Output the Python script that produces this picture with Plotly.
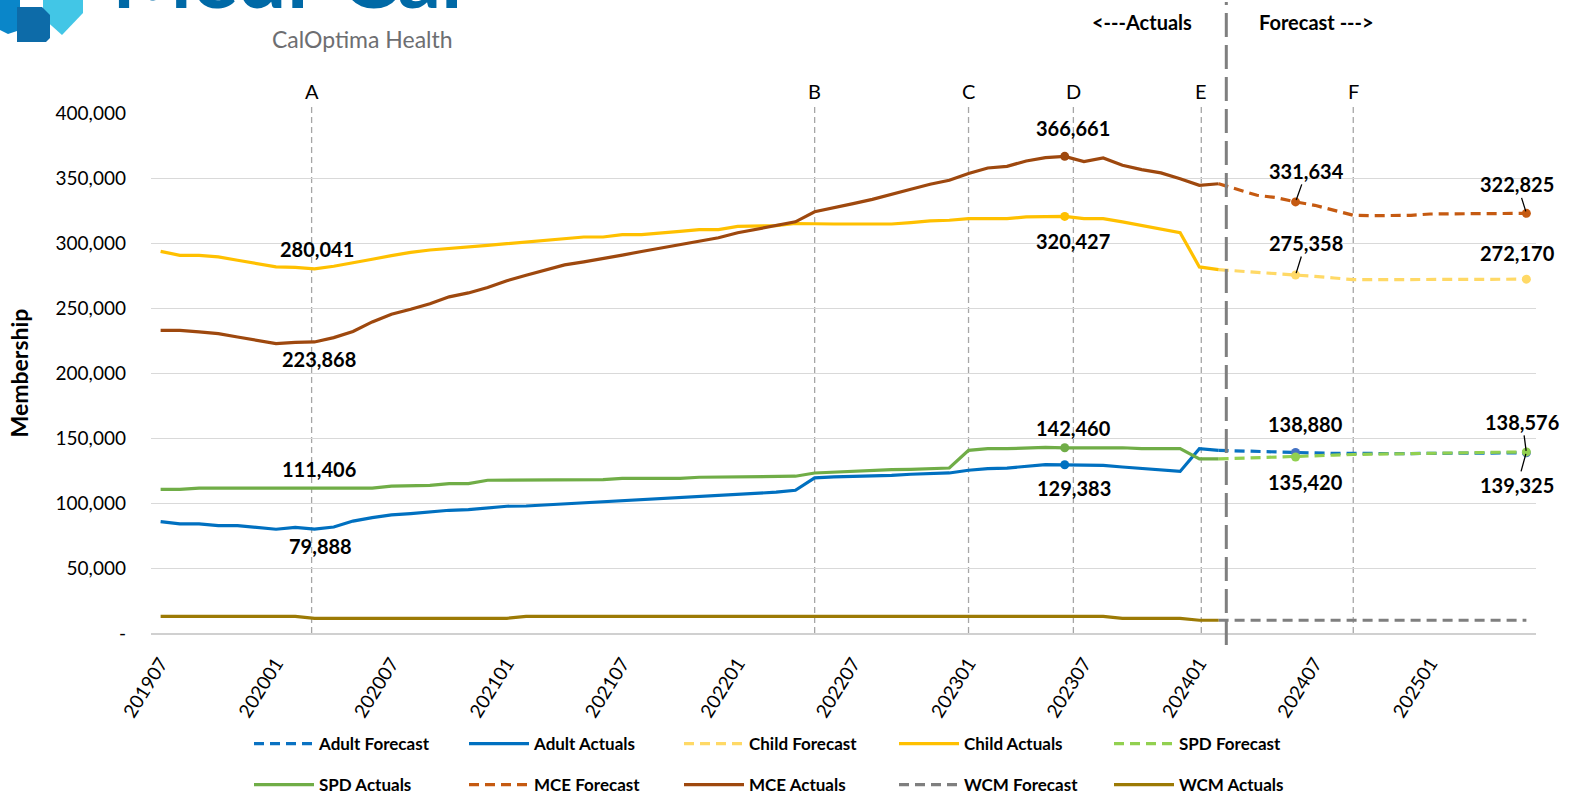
import plotly.graph_objects as go

# ---------------- categories ----------------
months = []
yy, mm = 2019, 7
for _ in range(72):
    months.append(f"{yy}{mm:02d}")
    mm += 1
    if mm > 12:
        mm = 1
        yy += 1
tick_months = months[::6]

ACT_N = 56          # actuals: 201907 .. 202402
FC_START = 55       # forecast: 202402 .. 202506

# ---------------- series values ----------------
adult_actual = [85700, 83900, 83900, 82600, 82600, 81300, 79800, 81300, 79888, 81500,
                86100, 88700, 90800, 91800, 93100, 94400, 94900, 95900, 97500, 97700,
                98500, 99000, 100000, 100500, 101600, 102100, 103100, 104100, 104700, 105700,
                106700, 107200, 108300, 109800, 119300, 120100, 120400, 120400, 121300, 122100,
                122600, 123100, 125200, 126400, 126900, 128200, 129500, 129383, 129400, 129000,
                127700, 126600, 125600, 124300, 141800, 140500]
adult_forecast = [140500, 140000, 139600, 139200, 138880, 138500, 138200, 138000, 137900,
                  137900, 138000, 138200, 138300, 138400, 138500, 138550, 138576]

child_actual = [293600, 290500, 290500, 289300, 286700, 284000, 281600, 281300, 280041, 282100,
                284600, 287500, 290300, 292800, 294600, 295600, 296900, 298200, 299500, 300800,
                302100, 303300, 304600, 304600, 306400, 306400, 308000, 309000, 310300, 310300,
                312800, 312800, 313400, 315000, 314600, 314600, 314600, 314600, 314600, 315700,
                317000, 317500, 318800, 318800, 318800, 320100, 320100, 320427, 318800, 318800,
                316200, 313600, 311100, 308000, 281600, 279500]
child_forecast = [279500, 278500, 277700, 276900, 275358, 274300, 273100, 271800, 271800,
                  271800, 271800, 271800, 272000, 272000, 272100, 272100, 272170]

spd_actual = [110500, 110500, 111400, 111400, 111400, 111400, 111400, 111400, 111406, 111400,
              111500, 111500, 113000, 113500, 113500, 114900, 114900, 117500, 117500, 117500,
              117500, 117500, 117500, 118000, 119000, 119000, 119000, 119000, 119800, 120000,
              120000, 120000, 120000, 120600, 123100, 123800, 124400, 125100, 125600, 125900,
              126400, 126900, 140500, 141800, 141800, 142300, 142800, 142460, 142500, 142500,
              142500, 141800, 141800, 141800, 133900, 133900]
spd_forecast = [133900, 134300, 134700, 135000, 135420, 136200, 136800, 137300, 137500,
                137600, 137800, 138200, 138500, 138800, 139000, 139200, 139325]

mce_actual = [232800, 232800, 231600, 230300, 227700, 225200, 222600, 223600, 223868, 227200,
              232000, 239300, 245200, 249000, 253200, 258600, 261600, 265800, 271000, 275200,
              279200, 283200, 285500, 288400, 290700, 293500, 296100, 298700, 301700, 304000,
              307900, 310700, 313000, 316300, 324000, 326900, 330300, 333600, 337200, 341300,
              345200, 348300, 353400, 357700, 359000, 363100, 365700, 366661, 362600, 365400,
              359800, 356400, 353900, 349500, 344400, 345600]
mce_forecast = [345600, 341000, 336700, 334900, 331634, 329000, 325200, 321300, 321000,
                321000, 321300, 322300, 322400, 322500, 322600, 322700, 322825]

wcm_actual = [12800, 12800, 12800, 12800, 12800, 12800, 12800, 12800, 11300, 11300,
              11300, 11300, 11300, 11300, 11300, 11300, 11300, 11300, 11300, 12800,
              12800, 12800, 12800, 12800, 12800, 12800, 12800, 12800, 12800, 12800,
              12800, 12800, 12800, 12800, 12800, 12800, 12800, 12800, 12800, 12800,
              12800, 12800, 12800, 12800, 12800, 12800, 12800, 12800, 12800, 12800,
              11200, 11200, 11200, 11200, 9800, 9800]
wcm_forecast = [9800, 9800, 9800, 9800, 9800, 9800, 9800, 9800, 9800,
                9800, 9800, 9800, 9800, 9800, 9800, 9800, 9800]

y_ticks = [0, 50000, 100000, 150000, 200000, 250000, 300000, 350000, 400000]
y_ticktext = ["-"] + [f"{v:,}" for v in y_ticks[1:]]

event_labels = ["A", "B", "C", "D", "E", "F"]

# ---------------- layout helpers ----------------
W, H = 1576, 796
L, R, T, B = 151, 40, 113, 163
PW, PH = W - L - R, H - T - B


def px(xp):
    return (xp - L) / PW


def py(yp):
    return (H - B - yp) / PH


FONT = "Lato, 'Open Sans', Arial, sans-serif"
act_idx = list(range(ACT_N))
fc_idx = list(range(FC_START, len(months)))
act_x = [months[i] for i in act_idx]
fc_x = [months[i] for i in fc_idx]

fig = go.Figure()

series = [
    ("Adult Forecast", fc_x, adult_forecast, "#0A72C2", True, "legend"),
    ("Adult Actuals", act_x, adult_actual, "#0070C0", False, "legend"),
    ("Child Forecast", fc_x, child_forecast, "#FFD966", True, "legend"),
    ("Child Actuals", act_x, child_actual, "#FFC000", False, "legend"),
    ("SPD Forecast", fc_x, spd_forecast, "#92D050", True, "legend"),
    ("SPD Actuals", act_x, spd_actual, "#70AD47", False, "legend2"),
    ("MCE Forecast", fc_x, mce_forecast, "#C55A11", True, "legend2"),
    ("MCE Actuals", act_x, mce_actual, "#9E480E", False, "legend2"),
    ("WCM Forecast", fc_x, wcm_forecast, "#7F7F7F", True, "legend2"),
    ("WCM Actuals", act_x, wcm_actual, "#9C7A05", False, "legend2"),
]
for name, xs, ys, col, dashed, lg in series:
    fig.add_trace(go.Scatter(
        x=xs, y=ys, name=name, mode="lines", legend=lg,
        line=dict(color=col, width=3.2, dash="10px,6px" if dashed else "solid"),
        hoverinfo="x+y+name",
    ))

# markers at labelled points
marker_specs = [
    (act_x, adult_actual, [47], "#0070C0"),
    (act_x, child_actual, [47], "#FFC000"),
    (act_x, spd_actual, [47], "#70AD47"),
    (act_x, mce_actual, [47], "#9E480E"),
    (fc_x, adult_forecast, [4, 16], "#4472C4"),
    (fc_x, child_forecast, [4, 16], "#FFD966"),
    (fc_x, spd_forecast, [4, 16], "#92D050"),
    (fc_x, mce_forecast, [4, 16], "#C55A11"),
]
for xs, ys, idx, col in marker_specs:
    fig.add_trace(go.Scatter(
        x=[xs[i] for i in idx], y=[ys[i] for i in idx], mode="markers",
        marker=dict(color=col, size=9), showlegend=False, hoverinfo="skip"))

annotations = []

# value labels: (index list, y list, index, dx, dy, leader)
label_specs = [
    (act_idx, child_actual, 8, 2, -20, False),
    (act_idx, mce_actual, 8, 4, 17, False),
    (act_idx, spd_actual, 8, 4, -19, False),
    (act_idx, adult_actual, 8, 6, 17, False),
    (act_idx, mce_actual, 47, 8, -28, False),
    (act_idx, child_actual, 47, 8, 25, False),
    (act_idx, spd_actual, 47, 9, -20, False),
    (act_idx, adult_actual, 47, 9, 23, False),
    (fc_idx, mce_forecast, 4, 11, -31, True),
    (fc_idx, child_forecast, 4, 10, -32, True),
    (fc_idx, adult_forecast, 4, 10, -28, False),
    (fc_idx, spd_forecast, 4, 10, 25, False),
    (fc_idx, mce_forecast, 16, -9, -29, True),
    (fc_idx, child_forecast, 16, -9, -26, False),
    (fc_idx, adult_forecast, 16, -4, -31, True),
    (fc_idx, spd_forecast, 16, -9, 33, True),
]
for xs, ys, i, dx, dy, leader in label_specs:
    a = dict(x=xs[i], y=ys[i], xref="x", yref="y", text=f"<b>{ys[i]:,}</b>",
             font=dict(family=FONT, size=20, color="#000000"))
    if leader:
        a.update(showarrow=True, arrowhead=0, arrowwidth=1.3, arrowcolor="#000000",
                 ax=dx, ay=dy, axref="pixel", ayref="pixel", standoff=2)
    else:
        a.update(showarrow=False, xshift=dx, yshift=-dy)
    annotations.append(a)

# event reference lines
event_pos = [7.85, 34.0, 42.0, 47.45, 54.1, 62.0]
shapes = []
for lab, pos in zip(event_labels, event_pos):
    shapes.append(dict(type="line", xref="x", yref="paper", x0=pos, x1=pos, y0=0, y1=py(103),
                       line=dict(color="#A6A6A6", width=1.3, dash="6px,4px"), layer="below"))
    annotations.append(dict(x=pos, y=py(91), xref="x", yref="paper", text=lab, showarrow=False,
                            xanchor="center", yanchor="middle",
                            font=dict(family=FONT, size=20, color="#000000")))

# actuals / forecast divider
DIV = 55.4
shapes.append(dict(type="line", xref="x", yref="paper", x0=DIV, x1=DIV, y0=py(645), y1=py(2),
                   line=dict(color="#7F7F7F", width=3, dash="24px,8px")))
annotations.append(dict(x=px(1142), y=py(22), xref="paper", yref="paper", text="<b>&lt;---Actuals</b>",
                        xanchor="center", yanchor="middle",
                        showarrow=False, font=dict(family=FONT, size=20, color="#000000")))
annotations.append(dict(x=px(1316), y=py(22), xref="paper", yref="paper", text="<b>Forecast ---&gt;</b>",
                        xanchor="center", yanchor="middle",
                        showarrow=False, font=dict(family=FONT, size=20, color="#000000")))

# logo (cropped at top of page)
annotations.append(dict(x=px(110), y=py(28), xref="paper", yref="paper", xanchor="left", yanchor="bottom",
                        text="<b>Medi-Cal</b>", showarrow=False,
                        font=dict(family=FONT, size=86, color="#0069A6")))
annotations.append(dict(x=px(270), y=py(39), xref="paper", yref="paper", xanchor="left", yanchor="middle",
                        text="CalOptima Health", showarrow=False,
                        font=dict(family=FONT, size=23, color="#6D6E71")))


def poly(pts):
    return "M " + " L ".join(f"{px(a)},{py(b)}" for a, b in pts) + " Z"


shapes.append(dict(type="path", xref="paper", yref="paper", path=poly([(0, 0), (20, 0), (20, 30), (8, 34), (0, 30)]),
                   fillcolor="#0A86C9", line=dict(width=0)))
shapes.append(dict(type="path", xref="paper", yref="paper", path=poly([(43, 0), (83, 0), (83, 13), (62, 35), (43, 18)]),
                   fillcolor="#42C6E6", line=dict(width=0)))
shapes.append(dict(type="path", xref="paper", yref="paper", path=poly([(17, 7), (42, 7), (50, 15), (50, 38), (46, 42), (17, 42)]),
                   fillcolor="#0D6BA8", line=dict(width=0)))

legend_common = dict(orientation="h", xanchor="left", yanchor="top",
                     entrywidth=140, entrywidthmode="pixels", bgcolor="rgba(0,0,0,0)",
                     itemwidth=60,
                     font=dict(family=FONT, size=17, color="#000000", weight="bold"),
                     traceorder="normal")

fig.update_layout(
    width=W, height=H,
    margin=dict(l=L, r=R, t=T, b=B, pad=0, autoexpand=False),
    paper_bgcolor="white", plot_bgcolor="white",
    font=dict(family=FONT, size=19, color="#000000"),
    showlegend=True,
    legend=dict(x=px(249), y=py(726), **legend_common),
    legend2=dict(x=px(249), y=py(767), **legend_common),
    annotations=annotations,
    shapes=shapes,
    hovermode="closest",
)
fig.update_xaxes(type="category", categoryorder="array", categoryarray=months,
                 range=[-0.5, 71.5], tickmode="array", tickvals=tick_months, ticktext=tick_months,
                 tickangle=-58, tickfont=dict(family=FONT, size=19, color="#000000"),
                 showgrid=False, showline=True, linecolor="#D0D0D0", linewidth=1.5,
                 ticks="", ticklabelstandoff=10, zeroline=False, automargin=False)
fig.update_yaxes(range=[0, 400000], tickmode="array", tickvals=y_ticks, ticktext=y_ticktext,
                 tickfont=dict(family=FONT, size=19, color="#000000"),
                 showgrid=True, gridcolor="#D9D9D9", gridwidth=1.3, zeroline=False,
                 showline=False, ticks="", ticklabelstandoff=24, automargin=False,
                 title=dict(text="<b>Membership</b>", font=dict(family=FONT, size=23, color="#000000"),
                            standoff=20))

fig.write_html("out.html")
